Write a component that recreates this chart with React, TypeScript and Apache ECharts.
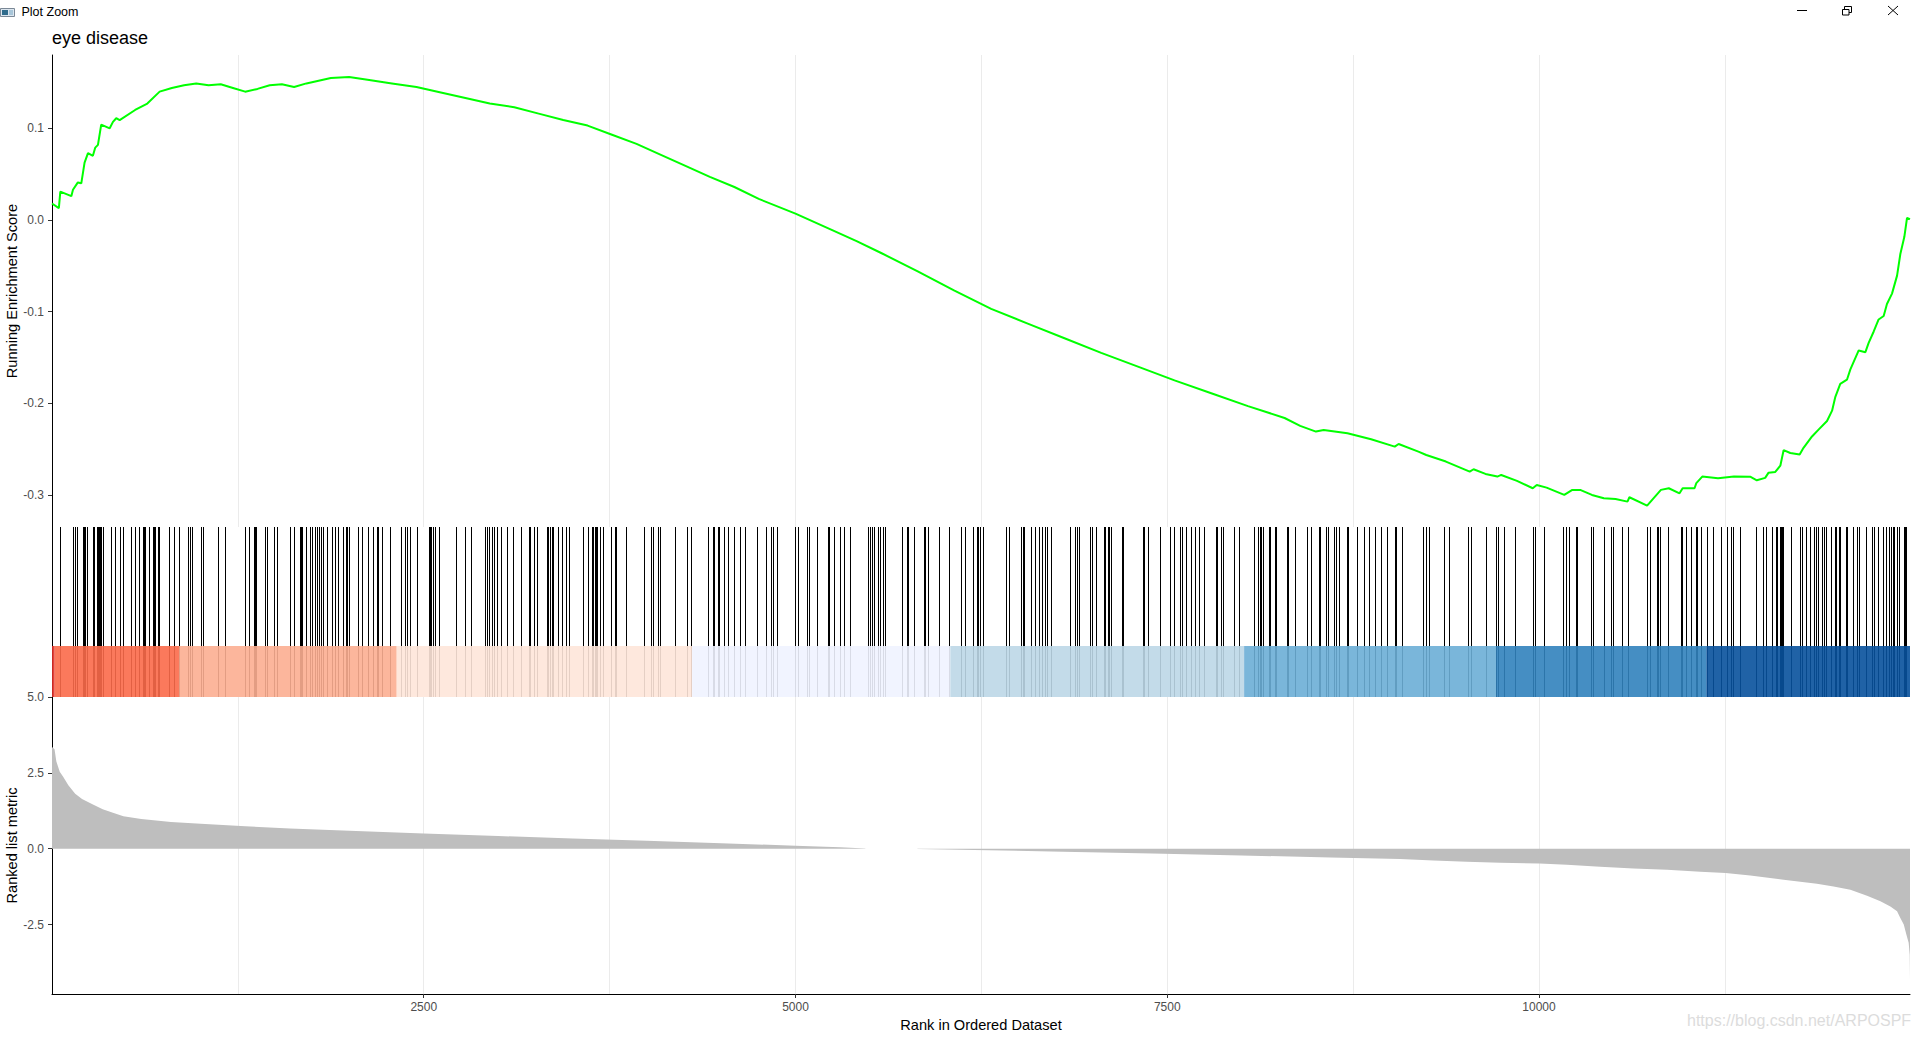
import React, { useEffect, useRef } from "react";
import * as echarts from "echarts";

// ---------------- data ----------------
const RANK_MAX = 12495;

const esRank = [
  0, 46, 56, 130, 141, 174, 197, 219, 242, 275, 291, 309, 331, 388, 410, 432, 455, 559, 641, 724,
  806, 888, 970, 1053, 1135, 1217, 1299, 1382, 1464, 1546, 1628, 1711, 1793, 1875, 1998, 2122, 2286,
  2451, 2615, 2780, 2944, 3109, 3273, 3438, 3602, 3766, 3931, 4095, 4260, 4424, 4589, 4753, 5000,
  5247, 5411, 5576, 5822, 6069, 6316, 6562, 6809, 7056, 7303, 7549, 7796, 8043, 8289, 8394, 8500,
  8552, 8712, 8871, 9030, 9056, 9189, 9242, 9374, 9534, 9560, 9640, 9720, 9746, 9852, 9958, 9985,
  10051, 10170, 10224, 10277, 10356, 10436, 10515, 10595, 10608, 10727, 10820, 10873, 10945, 10966,
  11046, 11058, 11098, 11204, 11311, 11420, 11465, 11521, 11544, 11589, 11623, 11645, 11690, 11753,
  11779, 11836, 11880, 11937, 11971, 11993, 12026, 12071, 12094, 12150, 12195, 12217, 12251, 12284,
  12318, 12340, 12374, 12408, 12430, 12457, 12475, 12495,
];
const esValue = [
  0.018, 0.013, 0.031, 0.026, 0.033, 0.041, 0.04, 0.0625, 0.073, 0.07, 0.079, 0.082, 0.104, 0.1,
  0.107, 0.111, 0.109, 0.12, 0.127, 0.14, 0.144, 0.147, 0.149, 0.147, 0.148, 0.144, 0.14, 0.143,
  0.147, 0.148, 0.145, 0.149, 0.152, 0.155, 0.156, 0.153, 0.149, 0.145, 0.139, 0.133, 0.127, 0.123,
  0.116, 0.109, 0.103, 0.093, 0.083, 0.071, 0.059, 0.047, 0.036, 0.023, 0.007, -0.011, -0.023,
  -0.036, -0.056, -0.077, -0.097, -0.113, -0.129, -0.145, -0.16, -0.175, -0.189, -0.203, -0.216,
  -0.2246, -0.2308, -0.229, -0.2326, -0.2392, -0.2472, -0.2443, -0.2526, -0.2563, -0.2635, -0.2745,
  -0.2719, -0.277, -0.2799, -0.2781, -0.2846, -0.2926, -0.289, -0.2919, -0.2999, -0.2944, -0.2944,
  -0.2999, -0.3035, -0.3043, -0.3072, -0.3024, -0.3115, -0.2944, -0.2926, -0.2981, -0.2926, -0.2926,
  -0.2871, -0.2799, -0.2817, -0.2799, -0.28, -0.2839, -0.2813, -0.2756, -0.2748, -0.268, -0.2511,
  -0.2542, -0.2557, -0.2485, -0.2361, -0.2287, -0.2192, -0.208, -0.1929, -0.1787, -0.1742, -0.1629,
  -0.1423, -0.1442, -0.134, -0.1216, -0.1085, -0.1047, -0.0916, -0.0803, -0.0607, -0.0371, -0.0183,
  0.0023, 0.001,
];

const hitRanks = [
  58, 143, 159, 170, 210, 217, 224, 242, 282, 289, 309, 316, 322, 329, 334, 343, 399, 426, 461, 484,
  533, 562, 589, 612, 625, 632, 659, 681, 688, 695, 713, 726, 789, 825, 856, 917, 930, 948, 1004,
  1022, 1119, 1166, 1298, 1325, 1359, 1368, 1377, 1433, 1446, 1493, 1518, 1601, 1632, 1668, 1675,
  1682, 1711, 1738, 1751, 1774, 1785, 1800, 1814, 1823, 1850, 1883, 1906, 1930, 1957, 1982, 1989,
  1998, 2060, 2085, 2126, 2159, 2186, 2195, 2220, 2276, 2350, 2377, 2390, 2408, 2457, 2540, 2547,
  2552, 2563, 2579, 2603, 2720, 2783, 2823, 2913, 2928, 2944, 2962, 2975, 2996, 3022, 3063, 3101,
  3157, 3209, 3220, 3244, 3262, 3332, 3341, 3352, 3363, 3375, 3408, 3435, 3460, 3480, 3572, 3606,
  3633, 3644, 3653, 3662, 3671, 3686, 3707, 3763, 3787, 3796, 3864, 3987, 4032, 4047, 4081, 4095,
  4193, 4274, 4301, 4413, 4447, 4458, 4480, 4487, 4525, 4547, 4592, 4628, 4664, 4743, 4805, 4841,
  4853, 4877, 5001, 5018, 5079, 5095, 5149, 5220, 5231, 5265, 5303, 5332, 5373, 5494, 5505, 5519,
  5530, 5557, 5572, 5590, 5606, 5718, 5752, 5761, 5803, 5866, 5875, 5893, 5967, 6039, 6119, 6144,
  6196, 6225, 6234, 6241, 6263, 6416, 6442, 6521, 6530, 6539, 6588, 6617, 6644, 6658, 6678, 6694,
  6723, 6851, 6884, 6895, 6909, 6985, 6999, 7026, 7075, 7086, 7104, 7111, 7127, 7196, 7205, 7337,
  7344, 7373, 7452, 7519, 7548, 7591, 7602, 7631, 7660, 7687, 7714, 7748, 7833, 7840, 7867, 7875,
  7952, 7983, 8086, 8115, 8124, 8136, 8147, 8187, 8196, 8225, 8237, 8306, 8315, 8360, 8441, 8473,
  8521, 8531, 8574, 8584, 8627, 8640, 8659, 8709, 8717, 8778, 8826, 8860, 8900, 8942, 8982, 9032,
  9040, 9083, 9226, 9242, 9263, 9367, 9401, 9528, 9544, 9648, 9714, 9727, 9770, 9844, 9966, 9974,
  10040, 10167, 10186, 10207, 10250, 10260, 10356, 10366, 10443, 10488, 10504, 10560, 10600, 10732,
  10753, 10796, 10807, 10820, 10870, 10958, 10966, 10995, 11027, 11056, 11067, 11096, 11130, 11175,
  11226, 11265, 11292, 11308, 11358, 11461, 11511, 11533, 11571, 11594, 11605, 11625, 11632, 11639,
  11645, 11699, 11760, 11773, 11802, 11829, 11854, 11867, 11881, 11908, 11919, 11932, 11966, 11995,
  12002, 12020, 12026, 12065, 12078, 12112, 12145, 12154, 12204, 12240, 12253, 12282, 12318, 12336,
  12354, 12372, 12381, 12388, 12408, 12426, 12455, 12464, 12473,
];

const bandStart = [0, 18, 854, 2318, 4305, 6041, 8017, 9711, 11125];
const bandEnd = [18, 854, 2318, 4305, 6041, 8017, 9711, 11125, RANK_MAX];
const bandColors = ["#DE2D26", "#FB6A4A", "#FCAE91", "#FEE5D9", "#EFF3FF", "#BDD7E7", "#6BAED6", "#3182BD", "#08519C"];

const posRank = [0, 17, 29, 52, 75, 110, 156, 202, 272, 341, 410, 480, 600, 800, 1000, 1300, 1600, 2000, 2500, 3000, 3500, 4000, 4500, 5000, 5300, 5470];
const posValue = [3.35, 3.28, 2.88, 2.54, 2.37, 2.09, 1.81, 1.64, 1.47, 1.3, 1.19, 1.07, 0.98, 0.88, 0.82, 0.74, 0.67, 0.59, 0.5, 0.42, 0.34, 0.26, 0.18, 0.1, 0.05, 0.01];
const negRank = [5820, 6200, 6800, 7400, 8000, 8600, 9066, 9290, 9515, 9739, 10003, 10188, 10412, 10636, 10861, 11085, 11255, 11421, 11645, 11869, 11981, 12094, 12206, 12296, 12363, 12408, 12430, 12453, 12471, 12486, 12493, 12495];
const negValue = [-0.005, -0.04, -0.1, -0.16, -0.22, -0.29, -0.34, -0.39, -0.43, -0.46, -0.49, -0.53, -0.59, -0.65, -0.69, -0.76, -0.8, -0.88, -1.02, -1.15, -1.24, -1.35, -1.55, -1.73, -1.9, -2.06, -2.28, -2.5, -2.83, -3.1, -3.49, -4.31];

const xTickValues = [2500, 5000, 7500, 10000];
const esTickValues = [-0.3, -0.2, -0.1, 0, 0.1];
const metricTickValues = [-2.5, 0, 2.5, 5];

// ---------------- chart ----------------
const FONT = '"Liberation Sans", Arial, Helvetica, sans-serif';
const GRID_LEFT = 52;
const GRID_WIDTH = 1858;

export default function App() {
  const ref = useRef<HTMLDivElement>(null);

  useEffect(() => {
    if (!ref.current) return;
    const chart = echarts.init(ref.current, null, { renderer: "svg", width: 1918, height: 1039 });

    const splitLine = {
      show: true,
      showMinLine: false,
      showMaxLine: false,
      lineStyle: { color: "#EBEBEB", width: 1 },
    };
    const axisLineBlack = { show: true, onZero: false, lineStyle: { color: "#000", width: 1 } };

    const option: any = {
      animation: false,
      backgroundColor: "#fff",
      textStyle: { fontFamily: FONT },
      grid: [
        { left: GRID_LEFT, top: 55, width: GRID_WIDTH, height: 472 },
        { left: GRID_LEFT, top: 527, width: GRID_WIDTH, height: 170 },
        { left: GRID_LEFT, top: 697, width: GRID_WIDTH, height: 297 },
      ],
      xAxis: [
        {
          gridIndex: 0, type: "value", min: 0, max: RANK_MAX, interval: 1250,
          axisLine: { show: false }, axisTick: { show: false }, axisLabel: { show: false }, splitLine,
        },
        { gridIndex: 1, type: "value", min: 0, max: RANK_MAX, show: false },
        {
          gridIndex: 2, type: "value", min: 0, max: RANK_MAX, interval: 1250, position: "bottom",
          axisLine: axisLineBlack, axisTick: { show: false }, axisLabel: { show: false }, splitLine,
        },
        {
          gridIndex: 2, type: "value", min: 0, max: RANK_MAX, position: "bottom",
          axisLine: { show: false, onZero: false },
          axisTick: { show: true, customValues: xTickValues, length: 4, lineStyle: { color: "#333" } },
          axisLabel: {
            show: true, customValues: xTickValues, color: "#4D4D4D", fontSize: 12, margin: 7, fontFamily: FONT,
            formatter: (v: number) => String(Math.round(Number(v))),
          },
          splitLine: { show: false },
        },
      ],
      yAxis: [
        {
          gridIndex: 0, type: "value", min: -0.33488, max: 0.17998,
          axisLine: axisLineBlack,
          axisTick: { show: true, customValues: esTickValues, length: 4, lineStyle: { color: "#333" } },
          axisLabel: {
            show: true, customValues: esTickValues, color: "#4D4D4D", fontSize: 12, margin: 8, fontFamily: FONT,
            formatter: (v: number) => Number(v).toFixed(1),
          },
          splitLine: { show: false },
        },
        {
          gridIndex: 1, type: "value", min: 0, max: 1,
          axisLine: axisLineBlack, axisTick: { show: false }, axisLabel: { show: false }, splitLine: { show: false },
        },
        {
          gridIndex: 2, type: "value", min: -4.786, max: 5,
          axisLine: axisLineBlack,
          axisTick: { show: true, customValues: metricTickValues, length: 4, lineStyle: { color: "#333" } },
          axisLabel: {
            show: true, customValues: metricTickValues, color: "#4D4D4D", fontSize: 12, margin: 8, fontFamily: FONT,
            formatter: (v: number) => Number(v).toFixed(1),
          },
          splitLine: { show: false },
        },
      ],
      series: [
        {
          type: "line", xAxisIndex: 0, yAxisIndex: 0,
          data: esRank.map((r, i) => [r, esValue[i]]),
          showSymbol: false, symbol: "none",
          lineStyle: { color: "#00FF00", width: 2 },
          z: 5,
        },
        {
          type: "custom", xAxisIndex: 1, yAxisIndex: 1,
          data: hitRanks.map((r) => [r, 0]),
          encode: { x: 0, y: 1 },
          z: 2,
          renderItem: (_p: any, api: any) => {
            const x = api.value(0);
            const b = api.coord([x, 0]);
            const t = api.coord([x, 1]);
            return {
              type: "rect",
              shape: { x: Math.floor(b[0]), y: t[1], width: 1, height: b[1] - t[1] },
              style: { fill: "#000" },
            };
          },
        },
        {
          type: "custom", xAxisIndex: 1, yAxisIndex: 1,
          data: bandStart.map((s, i) => [s, bandEnd[i], i]),
          encode: { x: [0, 1] },
          z: 3,
          renderItem: (_p: any, api: any) => {
            const a = api.coord([api.value(0), 0.3]);
            const b = api.coord([api.value(1), 0]);
            return {
              type: "rect",
              shape: { x: a[0], y: a[1], width: b[0] - a[0], height: b[1] - a[1] },
              style: { fill: bandColors[api.value(2)], opacity: 0.9 },
            };
          },
        },
        {
          type: "line", xAxisIndex: 2, yAxisIndex: 2,
          data: posRank.map((r, i) => [r, posValue[i]]),
          showSymbol: false, symbol: "none",
          lineStyle: { width: 0, opacity: 0 },
          areaStyle: { color: "#BEBEBE", opacity: 1, origin: 0 },
        },
        {
          type: "line", xAxisIndex: 2, yAxisIndex: 2,
          data: negRank.map((r, i) => [r, negValue[i]]),
          showSymbol: false, symbol: "none",
          lineStyle: { width: 0, opacity: 0 },
          areaStyle: { color: "#BEBEBE", opacity: 1, origin: 0 },
        },
      ],
      graphic: [
        // window chrome
        { type: "rect", shape: { x: 0.5, y: 8.5, width: 14, height: 8 }, style: { fill: "#DCE6EF", stroke: "#7A8896", lineWidth: 1 } },
        { type: "rect", shape: { x: 2, y: 10, width: 6, height: 5 }, style: { fill: "#2F6C8C" } },
        { type: "rect", shape: { x: 9, y: 10, width: 4, height: 5 }, style: { fill: "#A8C6D9" } },
        {
          type: "text", x: 21.5, y: 11.5,
          style: { text: "Plot Zoom", fontSize: 12.5, fontFamily: FONT, fill: "#000", align: "left", verticalAlign: "middle" },
        },
        { type: "line", shape: { x1: 1797, y1: 10.5, x2: 1807, y2: 10.5 }, style: { stroke: "#000", lineWidth: 1 } },
        { type: "rect", shape: { x: 1842.5, y: 9.5, width: 6.5, height: 5.5 }, style: { fill: "none", stroke: "#000", lineWidth: 1 } },
        {
          type: "polyline",
          shape: { points: [[1844.5, 9.5], [1844.5, 6.5], [1851.5, 6.5], [1851.5, 12.5], [1849, 12.5]] },
          style: { fill: "none", stroke: "#000", lineWidth: 1 },
        },
        { type: "line", shape: { x1: 1888, y1: 6, x2: 1898, y2: 15 }, style: { stroke: "#000", lineWidth: 1 } },
        { type: "line", shape: { x1: 1898, y1: 6, x2: 1888, y2: 15 }, style: { stroke: "#000", lineWidth: 1 } },
        // titles
        {
          type: "text", x: 52, y: 38,
          style: { text: "eye disease", fontSize: 18, fontFamily: FONT, fill: "#000", align: "left", verticalAlign: "middle" },
        },
        {
          type: "text", x: 12, y: 291, rotation: Math.PI / 2,
          style: { text: "Running Enrichment Score", fontSize: 14.6, fontFamily: FONT, fill: "#000", align: "center", verticalAlign: "middle" },
        },
        {
          type: "text", x: 12, y: 845.5, rotation: Math.PI / 2,
          style: { text: "Ranked list metric", fontSize: 14.6, fontFamily: FONT, fill: "#000", align: "center", verticalAlign: "middle" },
        },
        {
          type: "text", x: 981, y: 1025,
          style: { text: "Rank in Ordered Dataset", fontSize: 14.6, fontFamily: FONT, fill: "#000", align: "center", verticalAlign: "middle" },
        },
        {
          type: "text", x: 1687, y: 1020,
          style: { text: "https://blog.csdn.net/ARPOSPF", fontSize: 16, fontFamily: FONT, fill: "#DCDCDC", align: "left", verticalAlign: "middle" },
        },
      ],
    };

    chart.setOption(option);
    return () => chart.dispose();
  }, []);

  return (
    <div
      ref={ref}
      style={{ position: "fixed", left: 0, top: 0, width: 1918, height: 1039, background: "#fff" }}
    />
  );
}
